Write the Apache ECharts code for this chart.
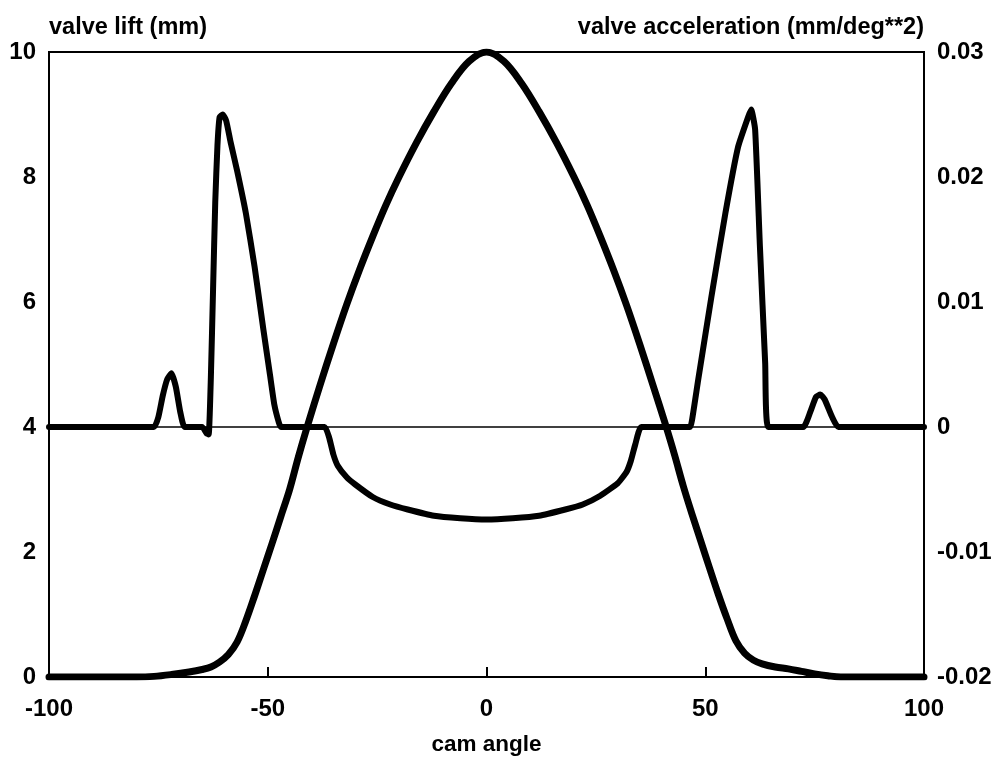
<!DOCTYPE html>
<html>
<head>
<meta charset="utf-8">
<title>valve lift and acceleration vs cam angle</title>
<script src="https://cdn.jsdelivr.net/npm/echarts@6/dist/echarts.min.js"></script>
<style>
  html, body { margin: 0; padding: 0; background: #fff; }
  #chart { width: 1000px; height: 763px; }
</style>
</head>
<body>
<div id="chart"></div>
<script>
// Cam angle (deg) and valve lift (mm)
const liftAngle = [-100, -90, -80, -76, -72, -68, -65, -63, -61, -59, -57, -55, -53, -51, -49, -47, -45, -43, -41, -38, -35, -32, -29, -26, -23, -20, -16, -12, -8, -4, 0,
  4, 8, 12, 16, 20, 23, 26, 29, 32, 35, 38, 41, 43, 45, 47, 49, 51, 53, 55, 57, 59, 61, 63, 66, 69, 72, 75, 78, 81, 90, 100];
const liftMm = [0, 0, 0, 0.01, 0.04, 0.08, 0.12, 0.16, 0.24, 0.36, 0.56, 0.9, 1.3, 1.72, 2.14, 2.57, 3.0, 3.52, 4.0, 4.68, 5.33, 5.95, 6.52, 7.05, 7.55, 8.0, 8.55, 9.05, 9.5, 9.85, 10,
  9.85, 9.5, 9.05, 8.55, 8.0, 7.55, 7.05, 6.52, 5.95, 5.33, 4.68, 4.02, 3.55, 3.05, 2.6, 2.17, 1.74, 1.32, 0.93, 0.58, 0.38, 0.27, 0.21, 0.16, 0.13, 0.09, 0.05, 0.02, 0, 0, 0];

// Cam angle (deg) and valve acceleration (mm/deg^2)
const accAngle = [-100, -76, -75, -74, -73, -72, -71, -70, -69, -65, -64, -63.5, -63, -62.5, -62, -61.5, -61, -60.3, -59.5, -58.5, -57, -55, -53, -51, -49.5, -48.5, -47.5, -47,
  -37, -36, -35, -34, -32, -30, -26, -22, -18, -12, -6, 0, 6, 12, 18, 22, 26, 30, 32, 33, 34, 35.4,
  46.5, 47, 48.4, 51.4, 54.6, 57.5, 59.8, 60.5, 61.4, 62.5, 63.7, 64.4, 72.4, 74, 75.3, 76.3, 77.3, 79, 80.4, 100];
const accVal = [0, 0, 0.0008, 0.0025, 0.0038, 0.0043, 0.0032, 0.0012, 0, 0, -0.0005, -0.0006, 0.004, 0.011, 0.018, 0.0225, 0.0248, 0.025, 0.0245, 0.0228, 0.0205, 0.0171, 0.0128, 0.0078, 0.0042, 0.0018, 0.0004, 0,
  0, -0.0008, -0.0022, -0.0031, -0.004, -0.0046, -0.0056, -0.0062, -0.0066, -0.0071, -0.0073, -0.0074, -0.0073, -0.0071, -0.0066, -0.0062, -0.0055, -0.0045, -0.0036, -0.0027, -0.0014, 0,
  0, 0.0006, 0.0038, 0.0104, 0.0171, 0.0224, 0.0248, 0.0254, 0.0238, 0.0144, 0.0051, 0,
  0, 0.0012, 0.0024, 0.0026, 0.0022, 0.0008, 0, 0];

// Axis tick values
const xTicks = [-100, -50, 0, 50, 100];
const liftTicks = [0, 2, 4, 6, 8, 10];
const accTicks = [-0.02, -0.01, 0, 0.01, 0.02, 0.03];

const FONT = '"Liberation Sans", Arial, Helvetica, sans-serif';
const tickStyle = { color: '#000', fontFamily: FONT, fontWeight: 'bold', fontSize: 24 };
const nameStyle = { color: '#000', fontFamily: FONT, fontWeight: 'bold', fontSize: 23.5 };

const liftData = liftAngle.map((a, i) => [a, liftMm[i]]);
const accData = accAngle.map((a, i) => [a, accVal[i]]);

const axisLineStyle = { show: true, onZero: false, lineStyle: { color: '#000', width: 2 } };
const tickLineStyle = { color: '#000', width: 2 };

const chart = echarts.init(document.getElementById('chart'), null, { renderer: 'canvas' });
chart.setOption({
  animation: false,
  backgroundColor: '#fff',
  grid: { left: 49, right: 76, top: 52, bottom: 86, show: true, borderColor: '#000', borderWidth: 2, backgroundColor: 'transparent' },
  xAxis: {
    type: 'value',
    min: xTicks[0], max: xTicks[xTicks.length - 1], interval: 50,
    name: 'cam angle', nameLocation: 'middle', nameGap: 56,
    nameTextStyle: Object.assign({}, nameStyle, { fontSize: 22.5 }),
    axisLine: axisLineStyle,
    axisTick: { show: true, inside: true, length: 10, lineStyle: tickLineStyle },
    axisLabel: Object.assign({ margin: 20 }, tickStyle),
    splitLine: { show: false }
  },
  yAxis: [
    {
      type: 'value', position: 'left',
      min: liftTicks[0], max: liftTicks[liftTicks.length - 1], interval: 2,
      name: 'valve lift (mm)', nameLocation: 'end', nameGap: 12,
      nameTextStyle: Object.assign({}, nameStyle, { align: 'left' }),
      axisLine: axisLineStyle,
      axisTick: { show: false },
      axisLabel: Object.assign({ margin: 13 }, tickStyle),
      splitLine: { show: false }
    },
    {
      type: 'value', position: 'right',
      min: accTicks[0], max: accTicks[accTicks.length - 1], interval: 0.01,
      name: 'valve acceleration (mm/deg**2)', nameLocation: 'end', nameGap: 12,
      nameTextStyle: Object.assign({}, nameStyle, { align: 'right' }),
      axisLine: axisLineStyle,
      axisTick: { show: false },
      axisLabel: Object.assign({
        margin: 13,
        formatter: v => (Math.abs(v) < 1e-9 ? '0' : v.toFixed(2))
      }, tickStyle),
      splitLine: { show: false }
    }
  ],
  series: [
    {
      name: 'valve acceleration',
      type: 'line', yAxisIndex: 1,
      data: accData,
      showSymbol: false, smooth: 0.15,
      lineStyle: { color: '#000', width: 6, cap: 'round', join: 'round' },
      markLine: {
        silent: true, symbol: 'none',
        label: { show: false },
        lineStyle: { color: '#000', width: 1.5, type: 'solid' },
        data: [{ yAxis: 0 }]
      },
      z: 2
    },
    {
      name: 'valve lift',
      type: 'line', yAxisIndex: 0,
      data: liftData,
      showSymbol: false, smooth: 0.35,
      lineStyle: { color: '#000', width: 7, cap: 'round', join: 'round' },
      z: 3
    }
  ]
});
</script>
</body>
</html>
